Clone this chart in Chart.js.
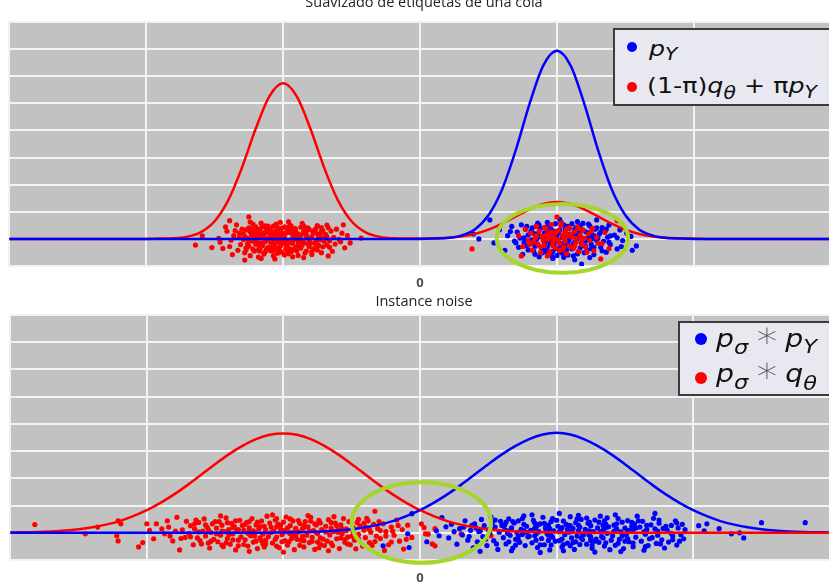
<!DOCTYPE html>
<html><head><meta charset="utf-8">
<script src="https://cdn.jsdelivr.net/npm/chart.js@4/dist/chart.umd.min.js"></script>
<style>
html,body{margin:0;padding:0;background:#fff;overflow:hidden;width:829px;height:587px;position:relative;}
#c1{position:absolute;left:0;top:-6px;}
#c2{position:absolute;left:0;top:290px;}
.lg{position:absolute;background:#e8e8f0;border:2px solid #3c3c3c;box-sizing:border-box;}
.dot{position:absolute;border-radius:50%;}
.row{position:absolute;white-space:nowrap;font-family:'DejaVu Sans';color:#111;transform-origin:0 0;}
.row i{font-style:italic;}
.row sub{font-size:0.8em;line-height:0;font-style:italic;}
.ast{color:#555;font-size:1.45em;line-height:0;font-weight:200;margin:0 -3px;}
</style>
</head><body>
<canvas id="c1" width="840" height="308"></canvas>
<canvas id="c2" width="840" height="308"></canvas>

<div class="lg" style="left:613px;top:28px;width:240px;height:78px;"></div>
<div class="dot" style="left:627px;top:42px;width:10px;height:10px;background:#0000ff;"></div>
<div class="dot" style="left:627px;top:82px;width:10px;height:10px;background:#ff0000;"></div>
<div class="row" data-group="top" style="left:649px;top:39px;font-size:21px;line-height:21px;"><i>p</i><sub style="vertical-align:-4px">Y</sub></div>
<div class="row" data-group="top" data-w="170" style="left:647px;top:76px;font-size:21px;line-height:21px;">(1-π)<i>q</i><sub style="vertical-align:-6px">θ</sub> + π<i>p</i><sub style="vertical-align:-5px">Y</sub></div>

<div class="lg" style="left:678px;top:321px;width:200px;height:75px;"></div>
<div class="dot" style="left:695px;top:333px;width:12px;height:12px;background:#0000ff;"></div>
<div class="dot" style="left:695px;top:372px;width:12px;height:12px;background:#ff0000;"></div>
<div class="row" data-group="bot" data-w="101" style="left:716px;top:326px;font-size:25px;line-height:25px;"><i>p</i><sub style="vertical-align:-7px">σ</sub> <span class="ast">∗</span> <i>p</i><sub style="vertical-align:-6px">Y</sub></div>
<div class="row" data-group="bot" style="left:716px;top:361px;font-size:25px;line-height:25px;"><i>p</i><sub style="vertical-align:-7px">σ</sub> <span class="ast">∗</span> <i>q</i><sub style="vertical-align:-8px">θ</sub></div>

<script>
// ---------- curve data (x grid shared by all curves) ----------
const curveX = [-3,-2.9,-2.8,-2.7,-2.6,-2.5,-2.4,-2.3,-2.2,-2.1,-2,-1.9,-1.8,-1.7,-1.6,-1.5,-1.4,-1.3,-1.2,-1.1,-1,-0.9,-0.8,-0.7,-0.6,-0.5,-0.4,-0.3,-0.2,-0.1,0,0.1,0.2,0.3,0.4,0.5,0.6,0.7,0.8,0.9,1,1.1,1.2,1.3,1.4,1.5,1.6,1.7,1.8,1.9,2,2.1,2.2,2.3,2.4,2.5,2.6,2.7,2.8,2.9,3];

// Top panel: one-sided label smoothing
const topRedCurve = [0,0,0,0,0,0,0,0,0,0, 0,0.01,0.02,0.08,0.25,0.65,1.43,2.63,4.06,5.26, 5.74,5.26,4.06,2.63,1.43,0.65,0.25,0.08,0.02,0.01, 0.01,0.02,0.04,0.09,0.18,0.34,0.56,0.83,1.09,1.29, 1.36,1.29,1.09,0.83,0.56,0.34,0.18,0.09,0.04,0.02, 0.01, 0,0,0,0,0,0,0,0,0,0];
const topBlueCurve = [0,0,0,0,0,0,0,0,0,0, 0,0,0,0,0,0,0,0,0,0, 0,0,0,0,0,0,0,0,0,0, 0, 0.01,0.03,0.12,0.35,0.87,1.83,3.28,4.98,6.39,6.94,6.39,4.98,3.28,1.83,0.87,0.35,0.12,0.03,0.01, 0,0,0,0,0,0,0,0,0,0,0];

// Bottom panel: instance noise
const botRedCurve = [0.01,0.02,0.03,0.05,0.08,0.13,0.20,0.30,0.43,0.61, 0.83,1.10,1.41,1.76,2.14,2.52,2.88,3.19,3.44,3.60, 3.65,3.60,3.44,3.19,2.88,2.52,2.14,1.76,1.41,1.10, 0.83,0.61,0.43,0.30,0.20,0.13,0.08,0.05,0.03,0.02, 0.01,0.01, 0,0,0,0,0,0,0,0,0,0,0,0,0,0,0,0,0,0,0];
const botBlueCurve = [0,0,0,0,0,0,0,0,0,0, 0,0,0,0,0,0,0,0,0,0, 0.01,0.02,0.03,0.05,0.08,0.13,0.20,0.30,0.43,0.61, 0.83,1.10,1.41,1.76,2.14,2.52,2.88,3.19,3.44,3.61, 3.67,3.61,3.44,3.19,2.88,2.52,2.14,1.76,1.41,1.10, 0.83,0.61,0.43,0.30,0.20,0.13,0.08,0.05,0.03,0.02, 0.01];

// ---------- sample points ----------
const topRedA = [[-1.64,-0.23],[-1.52,-0.32],[-1.59,0.11],[-1.39,0.67],[-1.25,0.81],[-1.28,-0.78],[-0.51,-0.15],[-0.43,0.03],[-0.56,0.52],[-0.67,-0.63],
[-1.47,0.02],[-1.44,-0.35],[-1.41,0.28],[-1.46,-0.12],[-1.42,0.44],
[-1.38,-0.05],[-1.35,0.31],[-1.33,-0.42],[-1.36,0.12],[-1.31,-0.21],[-1.34,0.52],[-1.37,-0.58],[-1.32,0.05],[-1.30,0.36],[-1.39,-0.28],
[-1.29,0.18],[-1.27,-0.33],[-1.25,0.41],[-1.23,-0.08],[-1.21,0.27],[-1.28,-0.51],[-1.26,0.02],[-1.24,-0.62],[-1.22,0.55],[-1.20,-0.19],[-1.27,0.33],[-1.25,-0.27],[-1.23,0.14],[-1.21,-0.45],[-1.29,-0.02],[-1.24,0.62],[-1.22,-0.38],
[-1.19,0.07],[-1.18,-0.41],[-1.17,0.36],[-1.16,-0.15],[-1.15,0.21],[-1.14,-0.56],[-1.13,0.48],[-1.12,-0.02],[-1.11,-0.31],[-1.19,0.29],[-1.18,-0.67],[-1.17,0.11],[-1.16,0.58],[-1.15,-0.24],[-1.14,0.17],[-1.13,-0.47],[-1.12,0.39],[-1.11,0.03],[-1.19,-0.22],[-1.17,-0.36],[-1.15,0.45],[-1.13,-0.11],[-1.11,0.24],[-1.16,-0.72],
[-1.09,0.14],[-1.08,-0.29],[-1.07,0.47],[-1.06,-0.07],[-1.05,0.31],[-1.04,-0.53],[-1.03,0.02],[-1.02,0.61],[-1.01,-0.18],[-1.09,-0.44],[-1.08,0.26],[-1.07,-0.62],[-1.06,0.19],[-1.05,-0.33],[-1.04,0.42],[-1.03,-0.12],[-1.02,0.08],[-1.01,-0.49],[-1.09,0.37],[-1.07,-0.21],[-1.05,0.55],[-1.03,-0.38],[-1.01,0.22],[-1.08,-0.04],[-1.06,-0.74],[-1.04,0.11],[-1.02,-0.26],
[-0.99,0.05],[-0.98,-0.36],[-0.97,0.29],[-0.96,-0.14],[-0.95,0.51],[-0.94,-0.47],[-0.93,0.16],[-0.92,-0.02],[-0.91,0.38],[-0.99,-0.59],[-0.98,0.21],[-0.97,-0.25],[-0.96,0.63],[-0.95,-0.09],[-0.94,0.33],[-0.93,-0.66],[-0.92,0.12],[-0.91,-0.31],[-0.99,0.44],[-0.97,-0.43],[-0.95,0.24],[-0.93,-0.17],[-0.91,0.07],[-0.98,-0.08],[-0.96,-0.55],[-0.94,0.47],[-0.92,-0.39],
[-0.89,0.19],[-0.88,-0.27],[-0.87,0.43],[-0.86,-0.05],[-0.85,0.26],[-0.84,-0.52],[-0.83,0.09],[-0.82,-0.18],[-0.81,0.35],[-0.89,-0.61],[-0.88,0.01],[-0.87,-0.34],[-0.86,0.57],[-0.85,-0.12],[-0.84,0.22],[-0.83,-0.45],[-0.82,0.41],[-0.81,-0.03],[-0.89,-0.22],[-0.87,0.13],[-0.85,-0.69],[-0.83,0.31],[-0.81,-0.28],
[-0.79,0.08],[-0.78,-0.37],[-0.77,0.32],[-0.76,-0.11],[-0.75,0.49],[-0.74,-0.24],[-0.73,0.15],[-0.72,-0.51],[-0.71,0.02],[-0.79,-0.58],[-0.78,0.24],[-0.77,-0.16],[-0.76,0.38],[-0.75,-0.41],[-0.73,-0.04],[-0.72,0.27],[-0.71,-0.29],
[-0.69,0.17],[-0.68,-0.23],[-0.67,0.41],[-0.66,-0.07],[-0.65,0.29],[-0.64,-0.46],[-0.63,0.06],[-0.62,-0.19],[-0.61,0.36],[-0.68,0.51],
[-0.59,-0.02],[-0.57,0.21],[-0.55,-0.33],[-0.53,0.12],[-0.58,-0.11],
[-1.28,0.09],[-1.26,-0.17],[-1.24,0.26],[-1.22,-0.05],[-1.20,0.44],[-1.18,0.19],[-1.16,-0.27],[-1.14,0.06],[-1.12,-0.38],[-1.10,0.29],[-1.08,0.09],[-1.06,-0.16],[-1.04,0.34],[-1.02,-0.09],[-1.00,0.16],[-0.98,-0.21],[-0.96,0.42],[-0.94,-0.03],[-0.92,0.24],[-0.90,-0.44],[-0.88,0.11],[-0.86,-0.23],[-0.84,0.38],[-0.82,0.04],[-0.80,-0.14],[-0.78,0.28],[-0.76,-0.33],[-0.74,0.06],[-0.72,0.42],[-0.70,-0.09],
[-1.27,-0.39],[-1.23,0.37],[-1.19,-0.12],[-1.15,0.04],[-1.11,0.47],[-1.07,-0.42],[-1.03,0.21],[-0.99,-0.02],[-0.95,-0.37],[-0.91,0.29],[-0.87,-0.13],[-0.83,0.17],[-0.79,-0.47],[-0.75,0.19],[-0.71,0.31],
[-1.13,0.26],[-1.09,-0.13],[-1.05,0.08],[-1.01,0.39],[-0.97,-0.53],[-0.93,0.35],[-0.89,-0.08],[-0.85,0.48],[-0.81,-0.21],[-1.17,-0.45],[-1.21,0.11],[-1.25,-0.03],[-1.32,0.21],[-0.68,0.08],[-0.66,-0.31]];

const topBlueB = [[0.51,0.70],[0.39,0.18],[0.43,0.0],[1.58,-0.26],[1.54,0.09],[1.18,-0.93],[1.29,0.70],
[0.54,-0.15],[0.58,0.34],
[0.62,-0.42],[0.64,0.12],[0.67,0.46],[0.69,-0.08],
[0.71,0.25],[0.72,-0.31],[0.73,0.03],[0.74,0.52],[0.75,-0.57],[0.76,-0.12],[0.77,0.37],[0.78,-0.26],[0.79,0.15],
[0.81,-0.04],[0.82,0.41],[0.83,-0.45],[0.84,0.19],[0.85,-0.21],[0.86,0.58],[0.87,-0.66],[0.88,0.07],[0.89,-0.34],[0.81,0.29],[0.83,-0.13],[0.85,0.47],[0.87,0.11],[0.89,-0.52],[0.84,-0.27],
[0.91,0.22],[0.92,-0.39],[0.93,0.45],[0.94,-0.06],[0.95,0.31],[0.96,-0.61],[0.97,0.09],[0.98,-0.22],[0.99,0.56],[0.91,-0.47],[0.92,0.14],[0.93,-0.29],[0.94,0.38],[0.95,-0.15],[0.96,0.02],[0.97,-0.72],[0.98,0.27],[0.99,-0.36],[0.93,0.61],[0.95,-0.48],[0.97,0.18],
[1.01,-0.09],[1.02,0.33],[1.03,-0.44],[1.04,0.05],[1.05,0.52],[1.06,-0.25],[1.07,0.16],[1.08,-0.59],[1.09,0.39],[1.01,0.24],[1.02,-0.31],[1.03,0.61],[1.04,-0.17],[1.05,-0.68],[1.06,0.11],[1.07,-0.41],[1.08,0.46],[1.09,-0.03],[1.02,0.72],[1.04,-0.53],[1.06,0.29],[1.08,-0.21],[1.10,0.08],
[1.11,-0.37],[1.12,0.19],[1.13,-0.12],[1.14,0.43],[1.15,-0.55],[1.16,0.04],[1.17,0.31],[1.18,-0.24],[1.19,0.57],[1.11,0.12],[1.12,-0.63],[1.13,0.36],[1.14,-0.06],[1.15,0.21],[1.16,-0.45],[1.17,0.49],[1.18,-0.16],[1.19,0.02],[1.13,-0.77],[1.15,0.64],[1.17,-0.33],
[1.21,0.26],[1.22,-0.42],[1.23,0.07],[1.24,0.48],[1.25,-0.19],[1.26,0.15],[1.27,-0.58],[1.28,0.36],[1.29,-0.05],[1.21,-0.27],[1.23,0.55],[1.25,-0.36],[1.27,0.12],[1.29,0.41],[1.24,-0.69],
[1.31,0.18],[1.32,-0.31],[1.33,0.42],[1.34,-0.08],[1.35,0.27],[1.36,-0.49],[1.37,0.06],[1.38,0.51],[1.39,-0.21],
[1.42,0.14],[1.44,-0.37],[1.46,0.33],[1.48,-0.06],
[1.51,0.21],[1.55,-0.42],
[0.76,0.04],[0.79,-0.41],[0.82,0.23],[0.85,-0.02],[0.88,0.38],[0.91,-0.13],[0.94,0.21],[0.97,-0.46],[1.00,0.12],[1.03,-0.24],[1.06,0.44],[1.09,0.17],[1.12,-0.19],[1.15,0.09],[1.18,0.33],[1.21,-0.08],[1.24,0.24],[1.27,-0.31],[1.30,0.03],[1.33,-0.44],[1.36,0.36],[1.39,0.11],
[0.78,0.46],[0.84,-0.57],[0.90,0.03],[0.96,0.34],[1.02,-0.47],[1.08,-0.11],[1.14,0.27],[1.20,-0.51],[1.26,0.01],[1.32,0.26],[1.38,-0.12],[1.44,0.04],[1.47,-0.28],[0.70,-0.14],[0.66,0.27],[1.00,-0.61],[1.11,0.56],[0.87,0.51]];

const topRedB = [[0.38,-0.37],[0.74,-0.63],[0.93,-0.63],[1.32,-0.74],[1.44,0.67],[1.0,0.81],
[0.72,0.12],[0.75,-0.28],[0.77,0.35],[0.79,-0.05],
[0.81,0.21],[0.82,-0.42],[0.84,0.04],[0.85,0.46],[0.86,-0.19],[0.87,0.28],[0.88,-0.51],[0.89,0.09],[0.83,-0.11],
[0.91,-0.24],[0.92,0.37],[0.93,-0.02],[0.94,0.19],[0.95,-0.46],[0.96,0.53],[0.97,-0.13],[0.98,0.08],[0.99,-0.33],[0.92,0.14],[0.94,-0.58],[0.96,0.26],[0.98,-0.07],
[1.01,0.31],[1.02,-0.18],[1.03,0.49],[1.04,-0.39],[1.05,0.02],[1.06,0.22],[1.07,-0.55],[1.08,0.11],[1.09,-0.27],[1.01,-0.04],[1.03,0.58],[1.05,-0.31],[1.07,0.36],
[1.11,0.06],[1.12,-0.35],[1.13,0.27],[1.14,-0.12],[1.15,0.44],[1.16,-0.47],[1.17,0.15],[1.18,-0.21],[1.19,0.33],[1.14,0.01],
[1.21,-0.29],[1.23,0.18],[1.24,-0.06],[1.26,0.39],[1.27,-0.44],[1.29,0.07],
[1.33,-0.17],[1.35,0.24],[1.38,-0.36],
[0.85,0.12],[0.88,-0.29],[0.91,0.43],[0.95,0.05],[0.99,0.24],[1.02,-0.43],[1.06,-0.09],[1.10,0.19],[1.13,-0.26],[1.16,0.38],[1.20,0.02],[1.22,-0.49],[1.25,0.28],[0.90,-0.06],[0.97,-0.25],[1.04,0.14],[1.09,0.42],[1.18,-0.03],[0.80,-0.22],[1.30,-0.16]];

const botRedPts = [[-2.82,0.30],[-2.45,-0.04],[-2.36,0.21],
[-2.21,0.44],[-2.19,0.33],[-2.22,-0.11],[-2.21,-0.30],
[-2.06,-0.52],[-2.03,-0.36],[-2.0,0.33],[-1.93,0.33],[-1.98,0.09],[-1.95,-0.22],
[-1.87,-0.04],[-1.78,0.57],[-1.76,-0.63],[-1.81,-0.30],[-1.89,0.14],[-1.84,0.21],[-1.83,-0.12],[-1.79,0.06],[-1.74,0.11],[-1.72,-0.17],[-1.71,0.42],
[-1.69,-0.03],[-1.68,0.26],[-1.66,-0.44],[-1.65,0.14],[-1.63,-0.19],[-1.62,0.38],[-1.61,-0.29],[-1.59,0.06],[-1.58,0.51],[-1.57,-0.12],[-1.56,0.22],[-1.54,-0.56],[-1.53,0.01],[-1.52,0.33],[-1.51,-0.24],[-1.64,0.47],[-1.55,-0.38],
[-1.49,0.17],[-1.48,-0.33],[-1.47,0.41],[-1.46,-0.09],[-1.45,0.28],[-1.44,-0.51],[-1.43,0.04],[-1.42,0.55],[-1.41,-0.21],[-1.40,0.12],[-1.39,-0.42],[-1.38,0.35],[-1.37,-0.04],[-1.36,0.23],[-1.35,-0.63],[-1.34,0.08],[-1.33,-0.27],[-1.32,0.46],[-1.31,-0.15],[-1.46,0.62],[-1.42,-0.37],[-1.37,0.19],[-1.33,-0.48],
[-1.29,0.09],[-1.28,-0.26],[-1.27,0.37],[-1.26,-0.49],[-1.25,0.18],[-1.24,-0.11],[-1.23,0.52],[-1.22,-0.34],[-1.21,0.02],[-1.20,0.29],[-1.19,-0.58],[-1.18,0.14],[-1.17,-0.19],[-1.16,0.43],[-1.15,-0.05],[-1.14,0.24],[-1.13,-0.41],[-1.12,0.61],[-1.11,-0.14],[-1.28,0.31],[-1.25,-0.68],[-1.22,0.07],[-1.19,0.39],[-1.16,-0.29],[-1.13,0.11],[-1.26,-0.02],[-1.14,-0.52],
[-1.09,0.21],[-1.08,-0.38],[-1.07,0.06],[-1.06,0.47],[-1.05,-0.16],[-1.04,0.32],[-1.03,-0.55],[-1.02,0.13],[-1.01,-0.07],[-1.00,0.39],[-0.99,-0.29],[-0.98,0.58],[-0.97,-0.45],[-0.96,0.01],[-0.95,0.26],[-0.94,-0.21],[-0.93,0.44],[-0.92,-0.62],[-0.91,0.16],[-1.08,0.66],[-1.05,-0.49],[-1.02,0.27],[-0.99,0.09],[-0.96,-0.33],[-0.93,0.02],[-1.06,-0.24],[-1.00,-0.71],[-0.95,0.51],[-0.91,-0.11],
[-0.89,0.03],[-0.88,0.34],[-0.87,-0.27],[-0.86,0.15],[-0.85,-0.52],[-0.84,0.41],[-0.83,-0.09],[-0.82,0.22],[-0.81,-0.36],[-0.80,0.57],[-0.79,-0.17],[-0.78,0.08],[-0.77,-0.61],[-0.76,0.29],[-0.75,-0.03],[-0.74,0.46],[-0.73,-0.42],[-0.72,0.12],[-0.71,-0.23],[-0.88,-0.46],[-0.85,0.19],[-0.82,0.63],[-0.79,-0.31],[-0.76,0.01],[-0.73,0.36],[-0.86,-0.13],[-0.74,-0.55],
[-0.69,0.24],[-0.68,-0.31],[-0.67,0.48],[-0.66,-0.08],[-0.65,0.17],[-0.64,-0.47],[-0.63,0.05],[-0.62,0.36],[-0.61,-0.22],[-0.60,0.11],[-0.59,-0.58],[-0.58,0.29],[-0.57,-0.04],[-0.56,0.52],[-0.55,-0.35],[-0.54,0.14],[-0.53,-0.16],[-0.52,0.41],[-0.51,-0.44],[-0.67,-0.66],[-0.63,0.59],[-0.58,-0.19],[-0.54,0.07],
[-0.49,0.19],[-0.48,-0.27],[-0.46,0.38],[-0.45,-0.06],[-0.44,0.25],[-0.42,-0.49],[-0.41,0.09],[-0.40,-0.18],[-0.38,0.44],[-0.37,-0.36],[-0.36,0.02],[-0.34,0.31],[-0.33,0.79],[-0.32,-0.12],[-0.31,0.16],[-0.47,-0.59],[-0.39,0.53],
[-0.29,-0.21],[-0.27,0.33],[-0.25,0.04],[-0.23,-0.44],[-0.21,0.21],[-0.19,-0.09],[-0.17,0.47],[-0.15,-0.31],[-0.13,0.12],[-0.12,-0.60],[-0.26,-0.65],
[-0.09,0.28],[-0.06,-0.17],[0.01,0.33],[0.04,-0.04],[0.09,-0.41],[0.03,0.19],[0.06,-0.05],
[0.11,-0.48],[0.11,0.15],[0.30,-0.04],
[0.52,-0.11],
[-1.68,-0.15],[-1.62,0.03],[-1.57,0.29],[-1.53,-0.31],[-1.49,-0.04],[-1.45,0.06],[-1.41,0.37],[-1.37,-0.26],[-1.33,0.12],[-1.29,-0.43],[-1.25,0.41],[-1.21,-0.12],[-1.17,0.23],[-1.13,-0.27],[-1.09,0.01],[-1.05,0.52],[-1.01,-0.33],[-0.97,0.18],[-0.93,-0.12],[-0.89,0.45],[-0.85,-0.29],[-0.81,0.06],[-0.77,0.33],[-0.73,-0.19],[-0.69,0.03],[-0.65,-0.38],[-0.61,0.26],[-0.57,0.14],[-0.53,-0.41],[-0.49,0.04],[-0.45,-0.23],[-0.41,0.36],[-0.37,0.12],[-0.33,-0.32],[-0.29,0.08],[-0.25,-0.12],[-0.21,-0.34],
[-1.60,-0.41],[-1.50,0.41],[-1.40,-0.07],[-1.30,0.27],[-1.20,-0.31],[-1.10,0.36],[-1.00,0.02],[-0.90,-0.24],[-0.80,0.43],[-0.70,-0.47],[-0.60,0.02],[-0.50,-0.12],[-0.40,0.21],[-0.30,0.41],[-0.20,0.06],
[-1.55,0.13],[-1.45,-0.45],[-1.35,0.44],[-1.25,0.04],[-1.15,-0.41],[-1.05,0.22],[-0.95,-0.04],[-0.85,0.27],[-0.75,-0.34],[-0.65,0.37],[-0.55,-0.25],[-0.45,0.49],[-0.35,-0.46],[-1.65,0.33],[-1.75,-0.21],[-1.85,0.44],[-0.16,0.27],[-0.10,-0.24]];

const botBluePts = [[-0.27,-0.48],[-0.08,-0.54],[-0.06,0.70],[-0.09,-0.04],[0.12,0.07],[0.16,0.56],[0.14,-0.11],[0.05,-0.33],[0.19,0.22],
[0.21,-0.19],[0.23,0.31],[0.25,0.04],[0.27,-0.42],[0.29,0.15],[0.31,-0.08],[0.33,0.44],[0.35,-0.27],[0.37,0.09],[0.38,0.27],[0.39,-0.55],
[0.41,0.18],[0.42,-0.33],[0.43,0.05],[0.45,0.49],[0.46,-0.14],[0.47,0.26],[0.49,-0.47],[0.50,0.11],[0.51,-0.02],[0.53,0.37],[0.54,-0.29],[0.55,0.21],[0.57,-0.61],[0.58,0.02],[0.59,0.42],[0.44,-0.68],[0.52,0.58],
[0.61,-0.18],[0.62,0.29],[0.63,-0.41],[0.64,0.07],[0.65,0.51],[0.66,-0.09],[0.67,0.18],[0.68,-0.56],[0.69,0.36],[0.70,-0.24],[0.71,0.01],[0.72,0.44],[0.73,-0.35],[0.74,0.13],[0.75,-0.06],[0.76,0.62],[0.77,-0.47],[0.78,0.24],[0.79,-0.15],[0.63,0.39],[0.67,-0.66],[0.72,-0.12],[0.76,0.31],
[0.81,0.09],[0.82,-0.37],[0.83,0.46],[0.84,-0.11],[0.85,0.22],[0.86,-0.54],[0.87,0.04],[0.88,0.33],[0.89,-0.21],[0.90,0.57],[0.91,-0.44],[0.92,0.14],[0.93,-0.03],[0.94,0.28],[0.95,-0.63],[0.96,0.41],[0.97,-0.16],[0.98,0.07],[0.99,-0.31],[0.82,0.66],[0.85,-0.27],[0.88,-0.72],[0.91,0.35],[0.94,-0.09],[0.97,0.52],[0.84,0.17],[0.96,-0.45],
[1.01,0.24],[1.02,-0.29],[1.03,0.11],[1.04,-0.52],[1.05,0.43],[1.06,-0.07],[1.07,0.31],[1.08,-0.38],[1.09,0.02],[1.10,0.59],[1.11,-0.19],[1.12,0.16],[1.13,-0.61],[1.14,0.37],[1.15,-0.12],[1.16,0.08],[1.17,-0.43],[1.18,0.49],[1.19,-0.25],[1.02,0.71],[1.05,-0.66],[1.08,0.27],[1.11,0.05],[1.14,-0.33],[1.17,0.21],[1.04,0.19],[1.10,-0.48],[1.16,0.64],[1.19,-0.04],
[1.21,0.13],[1.22,-0.42],[1.23,0.35],[1.24,-0.09],[1.25,0.26],[1.26,-0.57],[1.27,0.04],[1.28,0.47],[1.29,-0.23],[1.30,0.18],[1.31,-0.35],[1.32,0.61],[1.33,-0.14],[1.34,0.09],[1.35,-0.49],[1.36,0.32],[1.37,-0.02],[1.38,0.22],[1.39,-0.62],[1.22,0.54],[1.25,-0.28],[1.28,-0.71],[1.31,0.39],[1.34,-0.19],[1.37,0.55],[1.24,0.07],[1.36,-0.37],
[1.41,-0.11],[1.42,0.28],[1.43,-0.46],[1.44,0.14],[1.45,0.52],[1.46,-0.24],[1.47,0.03],[1.48,0.39],[1.49,-0.58],[1.50,0.17],[1.51,-0.07],[1.52,0.45],[1.53,-0.33],[1.54,0.08],[1.55,0.24],[1.56,-0.51],[1.57,0.33],[1.58,-0.16],[1.59,0.61],[1.43,0.66],[1.47,-0.69],[1.52,-0.21],[1.56,0.11],
[1.61,0.21],[1.62,-0.31],[1.63,0.42],[1.65,-0.05],[1.66,0.12],[1.67,-0.47],[1.69,0.29],[1.70,-0.18],[1.71,0.53],[1.73,-0.39],[1.74,0.06],[1.75,0.35],[1.77,-0.26],[1.78,0.16],[1.79,-0.56],[1.64,-0.64],[1.72,0.71],
[1.81,0.09],[1.82,-0.34],[1.84,0.27],[1.85,-0.12],[1.87,0.44],[1.88,-0.45],[1.89,0.18],[1.91,-0.07],[1.92,0.31],[1.93,-0.22],[1.94,0.12],
[2.04,0.26],[2.10,0.33],[2.19,0.15],[2.28,-0.04],[2.37,-0.19],[2.50,0.37],[2.82,0.37],[2.08,0.07],[2.34,0.0],
[0.32,0.21],[0.36,-0.14],[0.40,0.33],[0.44,0.06],[0.48,-0.24],[0.52,0.16],[0.56,-0.41],[0.60,0.27],[0.64,-0.02],[0.68,0.41],[0.72,-0.27],[0.76,0.08],[0.80,-0.12],[0.84,0.36],[0.88,-0.44],[0.92,0.22],[0.96,-0.09],[1.00,0.46],[1.04,-0.23],[1.08,0.12],[1.12,-0.36],[1.16,0.28],[1.20,-0.06],[1.24,0.39],[1.28,-0.31],[1.32,0.03],[1.36,0.19],[1.40,-0.27],[1.44,0.33],[1.48,-0.12],[1.52,0.09],[1.56,-0.38],[1.60,0.44],[1.64,0.03],[1.68,-0.22],[1.72,0.14],[1.76,-0.41],[1.80,0.24],[1.84,-0.03],[1.88,0.36],
[0.55,0.47],[0.65,-0.33],[0.75,0.52],[0.85,-0.04],[0.95,0.15],[1.05,-0.43],[1.15,0.51],[1.25,-0.16],[1.35,0.44],[1.45,-0.39],[1.55,0.38],[1.65,-0.51],[1.75,0.47],[1.85,-0.26],
[0.62,0.12],[0.70,-0.45],[0.78,0.02],[0.86,0.29],[0.94,-0.28],[1.02,0.04],[1.10,0.26],[1.18,-0.19],[1.26,-0.46],[1.34,0.27],[1.42,0.06],[1.50,-0.31],[1.58,0.18],[1.66,0.27],[1.74,-0.09],[1.90,-0.31]];

// highlight rings (data-unit centre and radii)
const ringTop = {x:1.04, y:0.02, rx:0.48, ry:1.27};
const ringBottom = {x:0.01, y:0.38, rx:0.51, ry:1.48};

// ---------- helpers ----------
const RED = '#ff0000', BLUE = '#0000ff';
const curvePts = (ys) => curveX.map((x, i) => ({x, y: ys[i]}));
const pairPts = (arr) => arr.map(p => ({x: p[0], y: p[1]}));

function lineDs(pts, color, order){
  return {type:'line', data:pts, borderColor:color, borderWidth:2.5, pointRadius:0, pointHoverRadius:0,
    fill:false, cubicInterpolationMode:'monotone', order};
}
function ptsDs(pts, color, order){
  return {type:'scatter', data:pts, backgroundColor:color, borderWidth:0, pointRadius:2.6, pointHoverRadius:0, showLine:false, order};
}

const plotBg = {
  id:'plotBg',
  beforeDraw(chart){
    const {ctx, chartArea:a} = chart;
    ctx.save(); ctx.fillStyle = '#c2c2c2';
    ctx.fillRect(a.left, a.top, a.right - a.left, a.bottom - a.top);
    ctx.restore();
  }
};
const ringPlugin = {
  id:'ring',
  afterDatasetsDraw(chart, args, opts){
    const e = opts.e; if(!e) return;
    const {ctx, scales:{x, y}} = chart;
    const cx = x.getPixelForValue(e.x), cy = y.getPixelForValue(e.y);
    const rx = Math.abs(x.getPixelForValue(e.x + e.rx) - cx);
    const ry = Math.abs(y.getPixelForValue(e.y + e.ry) - cy);
    ctx.save(); ctx.strokeStyle = '#a6d52b'; ctx.lineWidth = 4;
    ctx.beginPath(); ctx.ellipse(cx, cy, rx, ry, 0, 0, Math.PI * 2); ctx.stroke();
    ctx.restore();
  }
};

function makeChart(id, title, titlePad, layoutPad, tickPad, datasets, ring){
  return new Chart(document.getElementById(id), {
    type:'scatter',
    data:{datasets},
    options:{
      responsive:false, animation:false, events:[],
      layout:{padding:layoutPad},
      plugins:{
        legend:{display:false}, tooltip:{enabled:false},
        title:{display:true, text:title, color:'#1e1e1e', font:{family:'Open Sans', size:14.5, weight:'normal'}, padding:titlePad},
        ring:{e:ring}
      },
      scales:{
        x:{type:'linear', min:-3, max:3,
           ticks:{stepSize:1, autoSkip:false, maxRotation:0, padding:tickPad, color:'#505050',
                  font:{family:'Open Sans', size:13, weight:'bold'}, callback:(v)=> v === 0 ? '0' : ''},
           grid:{color:'#f2f2f2', lineWidth:2, drawTicks:false}, border:{display:false}},
        y:{type:'linear', min:-1, max:8,
           ticks:{display:false, stepSize:1},
           grid:{color:'#f2f2f2', lineWidth:2, drawTicks:false}, border:{display:false}}
      }
    },
    plugins:[plotBg, ringPlugin]
  });
}

// Top chart
makeChart('c1', 'Suavizado de etiquetas de una cola', {top:0, bottom:10.6}, {left:8, right:0, top:0, bottom:2}, 9.2, [
  lineDs(curvePts(topBlueCurve), BLUE, 0),
  lineDs(curvePts(topRedCurve), RED, 1),
  ptsDs(pairPts(topRedB), RED, 2),
  ptsDs(pairPts(topRedA), RED, 2),
  ptsDs(pairPts(topBlueB), BLUE, 3)
], ringTop);

// Bottom chart: red drawn under blue on the left, over blue on the right
const botRedAll = curvePts(botRedCurve);
makeChart('c2', 'Instance noise', {top:3.3, bottom:4.3}, {left:8, right:0, top:0, bottom:2}, 10.2, [
  lineDs(botRedAll.filter(p => p.x >= 0), RED, 0),
  lineDs(curvePts(botBlueCurve), BLUE, 1),
  lineDs(botRedAll.filter(p => p.x <= 0), RED, 2),
  ptsDs(pairPts(botBluePts), BLUE, 3),
  ptsDs(pairPts(botRedPts), RED, 4)
], ringBottom);

// stretch each legend's rows horizontally by one common factor, from the reference width of one row
['top', 'bot'].forEach(g => {
  const rows = Array.from(document.querySelectorAll('.row[data-group="' + g + '"]'));
  const ref = rows.find(r => r.dataset.w);
  const w = ref.getBoundingClientRect().width;
  const s = w > 0 ? parseFloat(ref.dataset.w) / w : 1;
  rows.forEach(r => { r.style.transform = 'scaleX(' + s.toFixed(3) + ')'; });
});
</script>
</body></html>
